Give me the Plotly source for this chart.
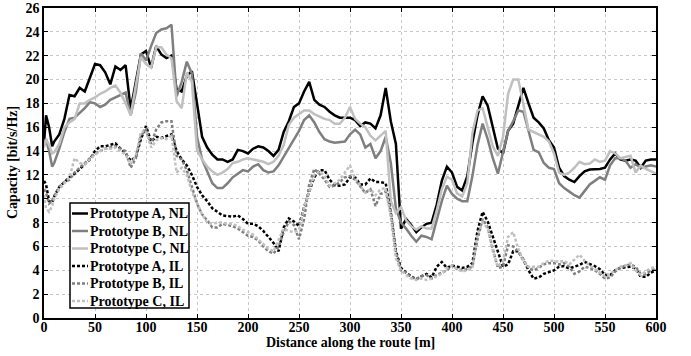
import plotly.graph_objects as go

distance = [0, 2, 5, 8] + list(range(10, 601, 5))

a_nl = [14.6, 17.0, 16.0, 14.4, 14.8, 15.4, 16.7, 18.7, 18.6, 19.3, 19.0, 20.2, 21.3, 21.2, 20.6, 19.6, 21.1, 20.8, 21.2, 17.5,
        19.8, 22.1, 22.4, 21.0, 22.8, 22.1, 21.8, 22.0, 19.2, 19.0, 20.3, 20.7, 18.0, 15.2, 14.3, 13.7, 13.3, 13.3, 13.1, 13.3,
        14.1, 14.0, 13.8, 14.2, 14.4, 14.3, 14.0, 13.6, 14.1, 15.6, 16.5, 17.7, 18.0, 19.0, 19.8, 18.3, 17.9, 17.7, 17.3, 17.0,
        16.8, 16.8, 16.8, 16.6, 16.1, 16.4, 16.3, 15.9, 17.0, 19.3, 16.5, 14.6, 7.5, 8.3, 7.8, 7.2, 7.6, 7.9, 8.0, 9.5,
        11.5, 12.7, 12.2, 11.0, 10.7, 11.9, 14.7, 17.0, 18.6, 17.8, 16.0, 14.2, 13.8, 15.7, 16.3, 17.8, 19.3, 18.0, 16.8, 16.4,
        15.9, 14.9, 14.3, 12.6, 11.9, 11.6, 11.4, 11.9, 12.3, 12.45, 12.45, 12.5, 12.6, 13.3, 13.8, 13.3, 13.2, 13.3, 13.2, 12.6,
        13.2, 13.3, 13.3]

b_nl = [14.5, 15.0, 14.0, 12.7, 13.0, 14.2, 15.6, 16.7, 16.8, 17.2, 17.6, 18.1, 18.0, 17.7, 17.9, 18.3, 18.5, 18.7, 18.9, 17.0,
        18.9, 22.2, 21.6, 22.8, 23.9, 24.2, 24.3, 24.6, 18.6, 19.8, 21.5, 20.5, 15.2, 13.3, 12.3, 11.3, 10.9, 10.9, 11.3, 11.8,
        12.1, 12.4, 12.3, 12.7, 12.9, 12.4, 12.2, 12.3, 12.8, 13.5, 14.2, 15.0, 15.7, 16.6, 17.0, 16.4, 15.6, 15.0, 14.8, 14.7,
        14.75, 14.8, 15.4, 15.8, 15.4, 14.3, 14.6, 13.4, 14.0, 15.2, 13.0, 9.2, 8.0, 7.5, 6.9, 6.4, 6.9, 6.8, 6.6, 8.2,
        9.8, 11.1, 10.4, 10.0, 9.8, 9.8, 11.9, 14.5, 16.3, 15.0, 13.4, 12.1, 14.0, 15.7, 16.5, 17.4, 17.3, 15.8, 14.1, 13.9,
        13.0, 12.6, 12.5, 11.3, 10.9, 10.6, 10.3, 10.1, 10.7, 11.2, 11.5, 11.8, 11.6, 12.8, 13.4, 13.4, 13.2, 12.6, 12.9, 12.6,
        12.7, 12.8, 12.7]

c_nl = [14.3, 15.0, 14.5, 13.8, 13.9, 14.6, 16.0, 16.4, 16.7, 18.0, 18.0, 18.3, 18.5, 18.8, 19.0, 19.3, 19.5, 18.9, 18.0, 17.0,
        19.5, 21.9, 21.3, 21.0, 22.7, 22.7, 22.1, 21.8, 18.2, 17.6, 20.6, 19.8, 14.1, 13.3, 12.7, 12.3, 12.0, 12.2, 12.5, 13.0,
        13.1, 13.3, 13.4, 13.3, 13.2, 13.1, 12.9, 13.1, 13.6, 14.5, 16.2, 16.8, 17.1, 17.4, 17.4, 17.1, 16.9, 16.7, 16.6, 16.3,
        16.3, 16.8, 17.7, 16.7, 16.3, 16.0, 15.3, 14.9, 15.3, 15.7, 9.8, 8.8, 9.3, 8.2, 7.7, 7.4, 7.7, 7.5, 7.5, 9.0,
        10.8, 11.85, 11.6, 10.45, 10.2, 11.3, 15.5, 17.4, 17.6, 15.9, 14.4, 13.6, 15.2, 18.8, 20.0, 20.0, 17.9, 15.8, 15.6, 15.4,
        15.2, 14.8, 13.8, 12.2, 12.0, 12.2, 12.6, 13.1, 12.9, 12.95, 13.3, 13.1, 13.2, 14.0, 13.8, 13.4, 13.5, 13.6, 12.2, 12.8,
        12.5, 12.3, 12.1]

a_il = [11.5, 11.2, 9.8, 9.7, 10.2, 11.0, 11.4, 11.8, 12.1, 12.5, 12.9, 13.3, 14.0, 14.4, 14.4, 14.5, 14.65, 14.2, 13.8, 13.2,
        13.5, 15.0, 16.1, 14.8, 15.2, 15.1, 15.25, 15.4, 14.0, 13.3, 12.8, 12.0, 11.0, 10.3, 9.8, 9.2, 8.9, 8.6, 8.55, 8.5,
        8.6, 8.3, 7.9, 7.9, 7.7, 7.3, 6.8, 6.3, 5.6, 7.6, 8.35, 8.1, 7.7, 9.3, 10.6, 11.8, 12.4, 12.4, 11.6, 11.15,
        11.1, 11.2, 11.8, 11.8, 11.2, 11.2, 11.7, 11.4, 11.4, 11.3, 8.8, 5.6, 4.2, 3.8, 3.5, 3.25, 3.5, 3.7, 3.4, 4.3,
        4.7, 4.2, 4.4, 4.3, 4.2, 4.3, 4.6, 7.3, 8.9, 8.1, 6.8, 5.6, 4.3, 4.5, 5.6, 5.6, 4.9, 4.0, 3.3, 3.4,
        3.7, 3.85, 4.0, 4.3, 4.35, 4.15, 4.3, 4.45, 4.7, 4.55, 4.35, 4.1, 3.6, 3.6, 4.0, 4.2, 4.25, 4.3, 4.15, 3.45,
        3.45, 3.8, 4.0]

b_il = [10.8, 10.5, 9.6, 9.8, 10.2, 11.0, 11.4, 11.6, 12.2, 12.6, 13.0, 13.4, 13.8, 14.0, 14.2, 14.3, 14.4, 14.2, 14.0, 12.6,
        13.4, 15.3, 15.8, 14.6, 15.8, 16.4, 16.5, 16.5, 13.6, 13.3, 12.4, 11.0, 9.6, 8.7, 8.2, 7.6, 7.6, 7.9, 7.8, 7.7,
        7.5, 7.2, 6.9, 6.8, 6.5, 6.0, 5.6, 5.4, 6.0, 7.2, 8.1, 7.8, 6.6, 8.3, 11.2, 12.5, 12.1, 11.6, 11.0, 11.1,
        11.4, 11.8, 11.9, 11.6, 11.0, 10.5, 10.8, 9.4, 10.4, 10.6, 9.0, 5.5, 4.0, 3.8, 3.4, 3.3, 3.5, 3.6, 3.3, 3.6,
        3.8, 4.0, 4.4, 4.1, 4.0, 4.1, 4.3, 6.6, 8.3, 7.6, 5.8, 4.2, 4.3, 6.1, 6.0, 5.6, 4.8, 4.2, 4.0, 4.2,
        4.5, 4.6, 4.6, 4.5, 4.6, 4.3, 3.7, 3.9, 4.3, 4.2, 4.0, 3.7, 3.3, 3.4, 3.9, 4.2, 4.4, 4.5, 4.3, 3.7,
        3.7, 4.0, 4.2]

c_il = [10.3, 9.2, 8.9, 9.4, 10.0, 10.8, 11.3, 11.8, 13.4, 13.0, 12.9, 13.3, 13.7, 14.0, 14.2, 14.2, 14.3, 14.0, 13.7, 12.9,
        13.6, 15.6, 15.7, 14.3, 14.9, 15.1, 15.0, 15.3, 12.2, 12.6, 12.0, 10.6, 9.7, 8.7, 8.0, 7.9, 8.0, 8.0, 7.9, 7.9,
        7.7, 7.4, 7.2, 7.0, 6.6, 6.2, 5.8, 5.6, 6.6, 7.5, 7.3, 7.2, 7.4, 9.3, 10.6, 12.0, 12.3, 11.9, 11.1, 11.3,
        11.6, 12.2, 12.8, 11.7, 11.1, 10.5, 10.8, 10.3, 10.8, 10.9, 8.5, 5.0, 4.0, 3.6, 3.3, 3.2, 3.3, 3.2, 3.3, 3.5,
        3.7, 4.2, 4.4, 4.1, 3.9, 4.0, 4.2, 7.0, 8.0, 7.5, 5.6, 4.3, 4.8, 6.8, 7.2, 5.8, 4.8, 4.3, 4.3, 4.3,
        4.6, 4.8, 4.8, 4.7, 4.8, 4.5, 4.9, 5.3, 4.8, 4.4, 4.1, 3.8, 3.5, 3.7, 4.0, 4.3, 4.4, 4.6, 4.0, 3.6,
        3.9, 4.2, 4.3]

series_names = ["Prototype A, NL", "Prototype B, NL", "Prototype C, NL",
                "Prototype A, IL", "Prototype B, IL", "Prototype C, IL"]
series_values = [a_nl, b_nl, c_nl, a_il, b_il, c_il]
for v in series_values:
    assert len(v) == len(distance), (len(v), len(distance))

x_ticks = list(range(0, 601, 50))
y_ticks = list(range(0, 27, 2))
x_title = "Distance along the route [m]"
y_title = "Capacity [bit/s/Hz]"

colors = ["#000000", "#7f7f7f", "#c0c0c0", "#000000", "#7f7f7f", "#c0c0c0"]
dashes = ["solid", "solid", "solid", "3px,2px", "3px,2px", "3px,2px"]

FONT = "Liberation Serif"
W, H = 691, 356
ML, MR, MT, MB = 44, 35, 8, 38
PW, PH = W - ML - MR, H - MT - MB

fig = go.Figure()
for name, vals, col, dash in zip(series_names, series_values, colors, dashes):
    fig.add_trace(go.Scatter(x=distance, y=vals, mode="lines", name=name,
                             line=dict(color=col, width=2.5, dash=dash),
                             showlegend=False))

def px_x(px):
    return (px - ML) / PW

def px_y(py):
    return (H - MB - py) / PH

bold_font = lambda s: dict(family=FONT, size=s, color="black", weight="bold")

# manual legend (MATLAB style)
shapes = [dict(type="rect", xref="paper", yref="paper",
               x0=px_x(70), x1=px_x(189), y0=px_y(308), y1=px_y(203),
               line=dict(color="black", width=1.5), fillcolor="white", layer="above")]
annotations = []
row_y = [213.5, 231, 248.5, 266, 283.5, 301]
for name, col, dash, ry in zip(series_names, colors, dashes, row_y):
    shapes.append(dict(type="line", xref="paper", yref="paper",
                       x0=px_x(72), x1=px_x(88), y0=px_y(ry), y1=px_y(ry),
                       line=dict(color=col, width=2.5, dash=dash),
                       layer="above"))
    annotations.append(dict(text="<b>" + name + "</b>", xref="paper", yref="paper",
                            x=px_x(87.5), y=px_y(ry), xanchor="left", yanchor="middle",
                            showarrow=False, font=bold_font(14)))

# axis titles placed as annotations
annotations.append(dict(text="<b>" + x_title + "</b>", xref="paper", yref="paper",
                        x=0.5, y=px_y(342), xanchor="center", yanchor="middle",
                        showarrow=False, font=bold_font(14)))
annotations.append(dict(text="<b>" + y_title + "</b>", xref="paper", yref="paper",
                        x=px_x(12), y=0.5, xanchor="center", yanchor="middle",
                        textangle=-90, showarrow=False, font=bold_font(14)))

axis_common = dict(showline=True, linecolor="black", linewidth=1.5, mirror="allticks",
                   ticks="inside", ticklen=4, tickcolor="black",
                   showgrid=True, gridcolor="#c8c8c8", griddash="dot", gridwidth=1,
                   zeroline=False, automargin=False,
                   tickfont=bold_font(14))

fig.update_layout(
    width=W, height=H,
    margin=dict(l=ML, r=MR, t=MT, b=MB),
    paper_bgcolor="white", plot_bgcolor="white",
    xaxis=dict(range=[0, 600], tickvals=x_ticks, ticktext=["<b>%d</b>" % t for t in x_ticks],
               ticklabelstandoff=-5, **axis_common),
    yaxis=dict(range=[0, 26], tickvals=y_ticks, ticktext=["<b>%d</b>" % t for t in y_ticks],
               ticklabelstandoff=0, **axis_common),
    shapes=shapes, annotations=annotations,
)

fig.write_html("out.html", config={"displayModeBar": False},
               post_script="document.body.style.margin='0';document.body.style.overflow='hidden';")
